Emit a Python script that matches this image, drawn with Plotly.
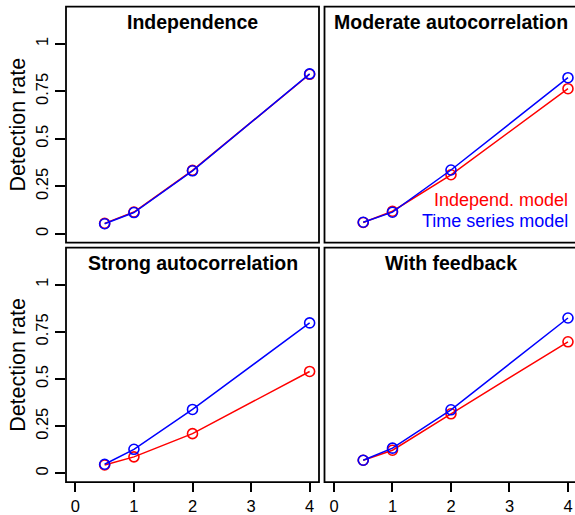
import plotly.graph_objects as go

# Sensitivity levels on the x axis and the two models' detection rates per scenario
shift = [0.5, 1, 2, 4]
panel_titles = ["Independence", "Moderate autocorrelation",
                "Strong autocorrelation", "With feedback"]

indep_independence = [0.055, 0.115, 0.334, 0.840]
ts_independence = [0.053, 0.112, 0.332, 0.842]

indep_moderate = [0.060, 0.119, 0.311, 0.764]
ts_moderate = [0.061, 0.114, 0.336, 0.822]

indep_strong = [0.045, 0.088, 0.211, 0.540]
ts_strong = [0.049, 0.128, 0.339, 0.797]

indep_feedback = [0.070, 0.123, 0.316, 0.697]
ts_feedback = [0.070, 0.134, 0.337, 0.823]

x_ticks = [0, 1, 2, 3, 4]
y_ticks = [0, 0.25, 0.5, 0.75, 1]
y_tick_labels = ["0", "0.25", "0.5", "0.75", "1"]

legend_labels = ["Independ. model", "Time series model"]
RED, BLUE = "#ff0000", "#0000ff"
FONT = "Liberation Sans, Arial, Helvetica, sans-serif"

W, H = 575, 515
panels = [
    (indep_independence, ts_independence),
    (indep_moderate, ts_moderate),
    (indep_strong, ts_strong),
    (indep_feedback, ts_feedback),
]

# panel frames in pixels: (left, right, top, bottom)
left_cols = (66, 319)
right_cols = (324.5, 575)
top_row = (6.7, 244)
bot_row = (249, 485)
frames = [
    (left_cols, top_row), (right_cols, top_row),
    (left_cols, bot_row), (right_cols, bot_row),
]

fig = go.Figure()
for i, (red_vals, blue_vals) in enumerate(panels):
    n = "" if i == 0 else str(i + 1)
    for vals, col in ((red_vals, RED), (blue_vals, BLUE)):
        fig.add_trace(go.Scatter(
            x=shift, y=vals, mode="lines+markers",
            line=dict(color=col, width=1.5),
            marker=dict(symbol="circle-open", size=10, color=col,
                        line=dict(width=1.6, color=col)),
            xaxis="x" + n, yaxis="y" + n, showlegend=False,
            cliponaxis=False,
        ))

y_range = [-0.046, 1.196]
for i, ((xl, xr), (yt, yb)) in enumerate(frames):
    n = "" if i == 0 else str(i + 1)
    left_col = i in (0, 2)
    bottom_row = i in (2, 3)
    x_range = [-0.16, 4.16] if left_col else [-0.162, 4.12]
    fig.layout["xaxis" + n] = dict(
        domain=[xl / W, xr / W], range=x_range, anchor="y" + n,
        showgrid=False, zeroline=False, showline=False,
        tickvals=x_ticks, ticktext=[str(t) for t in x_ticks],
        ticks="outside" if bottom_row else "", ticklen=9, tickwidth=1.5,
        tickcolor="black", showticklabels=bottom_row,
        tickfont=dict(family=FONT, size=16.5, color="black"),
    )
    fig.layout["yaxis" + n] = dict(
        domain=[1 - yb / H, 1 - yt / H], range=y_range, anchor="x" + n,
        showgrid=False, zeroline=False, showline=False,
        tickvals=y_ticks, ticktext=y_tick_labels, tickangle=-90,
        ticks="outside" if left_col else "", ticklen=10, tickwidth=1.5,
        tickcolor="black", showticklabels=left_col,
        tickfont=dict(family=FONT, size=16.5, color="black"),
    )
    # frame around the panel
    x1 = xr / W if left_col else 1.006
    fig.add_shape(type="rect", xref="paper", yref="paper",
                  x0=xl / W, x1=x1, y0=1 - yb / H, y1=1 - yt / H,
                  line=dict(color="black", width=1.8), layer="above")
    # panel title
    centre = (xl + (xr if left_col else 577.4)) / 2
    fig.add_annotation(text="<b>" + panel_titles[i] + "</b>",
                       xref="paper", yref="paper", x=centre / W,
                       y=1 - (yt + 15.5) / H, xanchor="center",
                       yanchor="middle", showarrow=False,
                       font=dict(family=FONT, size=19.5, color="black"))
    if left_col:
        fig.add_annotation(text="Detection rate", textangle=-90,
                           xref="paper", yref="paper", x=18 / W,
                           y=1 - (yt + yb) / 2 / H, xanchor="center",
                           yanchor="middle", showarrow=False,
                           font=dict(family=FONT, size=21.5, color="black"))

# model key inside the moderate-autocorrelation panel
for label, col, ypx in ((legend_labels[0], RED, 201), (legend_labels[1], BLUE, 222.3)):
    fig.add_annotation(text=label, xref="paper", yref="paper",
                       x=569.5 / W, y=1 - ypx / H, xanchor="right",
                       yanchor="middle", showarrow=False,
                       font=dict(family=FONT, size=18, color=col))

fig.update_layout(
    width=W, height=H, margin=dict(l=0, r=0, t=0, b=0),
    paper_bgcolor="white", plot_bgcolor="white",
    font=dict(family=FONT, color="black"),
)
fig.write_html("out.html")
